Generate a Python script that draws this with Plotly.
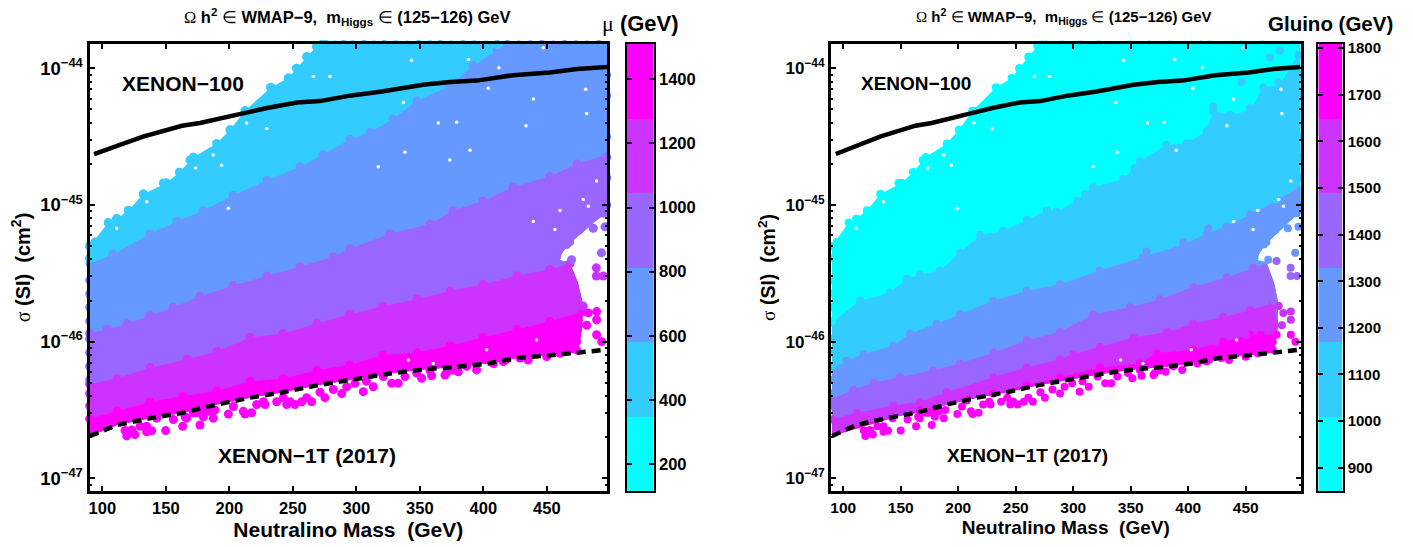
import numpy as np
import plotly.graph_objects as go

COLORS = ["#00FFFF", "#33CCFF", "#6699FF", "#9966FF", "#CC33FF", "#FF00FF"]

# limit curves (x in GeV, exponent of the cross section in cm^2)
X100_X = [93.5, 110, 132, 162.8, 176.9, 210.8, 229.7, 253.3, 271.4, 295, 320.2, 352.5, 373.8, 395, 413, 423.4, 452.5, 473.8, 497.4]
X100_E = [-44.627, -44.57, -44.50, -44.42, -44.40, -44.33, -44.29, -44.25, -44.24, -44.20, -44.17, -44.12, -44.10, -44.09, -44.065, -44.05, -44.03, -44.005, -43.99]
X1T_X = [90.3, 111.6, 137.6, 163.6, 190.3, 216.3, 242.3, 269, 295, 328.9, 355.7, 379.3, 403, 426.5, 452.5, 478.4, 495.8]
X1T_E = [-46.69, -46.61, -46.56, -46.52, -46.46, -46.41, -46.37, -46.32, -46.28, -46.23, -46.20, -46.185, -46.16, -46.12, -46.10, -46.075, -46.06]

# outline of the populated region
TOP_X = [90, 104.7, 111.3, 120.5, 132.3, 150.7, 160.7, 171.7, 190, 200.6, 212.4, 232.6, 246.5, 253, 261, 268.8, 272.7, 498]
TOP_E = [-45.30, -45.13, -45.10, -45.04, -44.92, -44.84, -44.76, -44.65, -44.55, -44.45, -44.31, -44.14, -44.07, -44.00, -43.915, -43.84, -43.82, -43.82]
LOW_X = [90.3, 111.6, 137.6, 163.6, 190.3, 216.3, 242.3, 269, 295, 328.9, 355.7, 379.3, 403, 426.5, 452.5, 474]
LOW_E = [-46.69, -46.61, -46.56, -46.52, -46.46, -46.41, -46.37, -46.32, -46.28, -46.23, -46.20, -46.185, -46.16, -46.12, -46.10, -46.08]
EDGE_X = [498, 498, 488, 478.4, 466.6, 458.7, 468, 474.5, 478, 478, 476, 474.4]
EDGE_E = [-43.82, -45.05, -45.12, -45.20, -45.29, -45.40, -45.42, -45.57, -45.71, -45.88, -46.00, -46.08]

# left panel (mu): upper boundary of each colour step
L1_X = [90.4, 108.4, 137.6, 158.8, 179.3, 202.9, 229.7, 255.7, 273.8, 295, 310.8, 328.9, 347.8, 373.8, 391.9, 410.8, 417, 498]
L1_E = [-45.43, -45.36, -45.21, -45.12, -45.04, -44.93, -44.82, -44.72, -44.63, -44.52, -44.47, -44.37, -44.24, -44.13, -43.98, -43.87, -43.82, -43.82]
L2_X = [90, 103.7, 119.4, 137.6, 155.7, 176.9, 202.9, 229.7, 255.7, 281.7, 295, 326.5, 358, 376.1, 399.8, 423.4, 452.5, 473.8, 498]
L2_E = [-45.94, -45.91, -45.87, -45.81, -45.75, -45.67, -45.59, -45.52, -45.45, -45.38, -45.32, -45.21, -45.14, -45.04, -44.97, -44.87, -44.79, -44.70, -44.63]
L3_X = [90, 111.6, 137.6, 166.7, 190.3, 216.3, 242.3, 269, 295, 321, 347.8, 373.8, 399.8, 426.5, 452.5, 468.3]
L3_E = [-46.31, -46.27, -46.19, -46.13, -46.07, -45.97, -45.94, -45.87, -45.80, -45.74, -45.69, -45.63, -45.58, -45.52, -45.47, -45.43]
L4_X = [90, 111.6, 137.6, 163.6, 190.3, 216.3, 242.3, 269, 295, 321, 347.8, 373.8, 399.8, 426.5, 452.5, 478.4]
L4_E = [-46.565, -46.51, -46.44, -46.40, -46.36, -46.29, -46.27, -46.21, -46.17, -46.10, -46.08, -46.03, -45.97, -45.91, -45.85, -45.78]

# right panel (gluino): upper boundary of each colour step
R1_X = [90, 114.6, 140.6, 155.1, 166.7, 184, 201.5, 218.9, 239.2, 259.5, 276.9, 285.5, 302.9, 317.4, 343.5, 358, 381.2, 398.5, 415.9, 421.7, 436.2, 453.6, 465.2, 479.7, 495.6, 498]
R1_E = [-45.86, -45.70, -45.64, -45.54, -45.51, -45.48, -45.35, -45.22, -45.19, -45.11, -45.04, -45.05, -44.97, -44.87, -44.81, -44.68, -44.56, -44.55, -44.46, -44.31, -44.34, -44.31, -44.14, -44.12, -43.90, -43.90]
R2_X = [90, 103, 117.5, 143.5, 158, 181.2, 201.5, 230.5, 259.5, 288.5, 323, 360.9, 395.6, 416, 433.3, 453.6, 476.8, 498]
R2_E = [-46.20, -46.14, -46.09, -46.03, -45.94, -45.87, -45.80, -45.70, -45.63, -45.58, -45.48, -45.38, -45.29, -45.21, -45.16, -45.07, -44.97, -44.86]
R3_X = [90, 108.8, 126.2, 149.3, 178.3, 201.5, 230.5, 259.5, 288.5, 317.4, 349.3, 375.4, 404.3, 433.3, 456.5, 476.8]
R3_E = [-46.42, -46.35, -46.30, -46.26, -46.21, -46.16, -46.08, -45.99, -45.93, -45.80, -45.75, -45.69, -45.60, -45.53, -45.46, -45.41]
R4_X = [90, 111.7, 143.5, 166.7, 189.9, 230.5, 259.5, 288.5, 300, 323.2, 352.2, 381.2, 404.3, 430.4, 453.6, 473.9]
R4_E = [-46.57, -46.52, -46.47, -46.44, -46.37, -46.26, -46.19, -46.13, -46.09, -46.04, -45.97, -45.93, -45.87, -45.82, -45.77, -45.72]
R5_X = [166.7, 207.3, 230.5, 259.5, 288.5, 323.2, 358, 372.4, 404.3, 430.4, 453.6, 476.8]
R5_E = [-46.50, -46.43, -46.38, -46.32, -46.26, -46.19, -46.16, -46.085, -46.06, -46.00, -45.95, -45.95]

# individual points standing out of the cloud (same points in both panels)
DOT_X = [90, 90, 94.3, 104.7, 111.3, 120.5, 132.3, 148, 150.7, 160.7, 169, 171.7, 200.6, 212.4, 232.6, 237.3, 246.5, 253, 261, 268.8, 272.7,
         276, 283, 290, 297, 306, 314, 322, 331, 340, 349, 358, 366, 375, 384, 393, 402, 411, 419, 428, 437, 446, 455, 464, 473, 482, 491,
         90, 90, 90, 90, 90, 90, 90, 90, 90, 90,
         497.2, 497.2, 497.2, 497.2, 497.2, 497.2,
         476, 485.3, 486.6, 476, 468, 494.5, 495.8, 469.5, 493, 489, 489, 494.5,
         478.7, 481.4, 470.9, 465.6, 457.7, 474, 478.7,
         119.2, 125.7, 123.1, 134.9, 138.9, 149.9, 163.3, 176.9, 166.4, 179.6, 187.4, 199.2, 212.4, 217.6, 228.1, 237.3, 245.2, 251.7, 257, 264.8, 275.3, 288.5, 183.5, 174.3, 134.9, 117.9,
         129.7, 142.8, 155.9, 165.1, 171.7, 179.6, 188.7, 203.2, 211, 221.6, 226.8, 242.5, 247.8, 260.9, 271.4, 281.9, 292.4,
         299, 308, 321.2, 338.3, 347.5, 358, 371, 376.4, 386.9, 407.9, 418.4, 428.9, 442, 455, 373.7, 465.6,
         305.5, 313.4, 327.8, 333, 351.4, 359.3, 369.8, 380.3, 394.7, 372.4, 379, 415.7, 435.4, 449.9, 460.4, 473.5, 473.5, 468.2, 489.2, 482.7, 489.2, 481.4, 489.2, 493.2, 423.6, 449.9, 463]
DOT_E = [-45.30, -45.39, -45.27, -45.13, -45.10, -45.04, -44.92, -44.84, -44.84, -44.76, -44.67, -44.65, -44.45, -44.31, -44.14, -44.17, -44.07, -44.00, -43.915, -43.84, -43.826,
         -43.826, -43.83, -43.826, -43.828, -43.826, -43.83, -43.826, -43.828, -43.83, -43.826, -43.828, -43.826, -43.83, -43.826, -43.828, -43.83, -43.826, -43.826, -43.83, -43.828, -43.826, -43.83, -43.826, -43.828, -43.83, -43.826,
         -45.55, -45.65, -45.75, -45.85, -45.98, -46.08, -46.18, -46.28, -46.38, -46.47,
         -44.2, -44.5, -44.8, -45.0, -44.05, -44.65,
         -44.96, -45.06, -45.17, -45.18, -45.27, -45.06, -45.16, -45.40, -45.35, -45.46, -45.52, -45.52,
         -45.06, -45.11, -45.21, -45.29, -45.38, -45.70, -45.74,
         -46.69, -46.68, -46.646, -46.66, -46.653, -46.651, -46.62, -46.61, -46.56, -46.55, -46.56, -46.53, -46.53, -46.52, -46.46, -46.44, -46.46, -46.46, -46.44, -46.44, -46.41, -46.38, -46.51, -46.52, -46.62, -46.65,
         -46.62, -46.56, -46.57, -46.55, -46.52, -46.51, -46.50, -46.475, -46.51, -46.46, -46.44, -46.41, -46.44, -46.41, -46.37, -46.35, -46.33,
         -46.305, -46.29, -46.256, -46.256, -46.23, -46.21, -46.23, -46.21, -46.18, -46.16, -46.13, -46.12, -46.085, -46.06, -46.10, -46.02,
         -46.366, -46.33, -46.305, -46.305, -46.268, -46.25, -46.244, -46.22, -46.207, -46.12, -46.12, -46.146, -46.134, -46.11, -46.085, -46.06, -46.00, -46.05, -45.78, -45.79, -45.84, -45.88, -45.95, -46.00, -46.00, -45.95, -45.95]

# points of the right panel lying across a step boundary
MIX_SKY_X = [418.8, 414.5, 401.4, 372.5, 360.9, 353.6, 317.4, 310.1, 436.2, 453.6, 421.7, 478.3, 446.4, 471, 479.7]
MIX_SKY_E = [-44.44, -44.51, -44.55, -44.67, -44.73, -44.73, -44.94, -44.92, -44.34, -44.29, -44.28, -44.10, -44.10, -43.92, -43.87]
MIX_BLUE_X = [417.4, 431.9, 395.6, 363.8]
MIX_BLUE_E = [-45.17, -45.18, -45.27, -45.34]

# small empty gaps inside the cloud
GAP_X = [337, 412.3, 403.9, 481.4, 480.6, 433.6, 439.4, 317.3, 338.3, 389.5, 373.7, 379, 364.6, 460.4, 489.2, 456.4, 439.4, 343.6, 388.2, 447.2, 482.7, 478.7,
         266.2, 279.3, 229.4, 213.6, 199.2, 135, 111.3, 187.4, 193.9, 173.5, 442, 402.6, 341, 360.6]
GAP_E = [-44.25, -43.995, -44.146, -44.33, -44.154, -44.42, -44.225, -44.72, -44.615, -44.60, -44.67, -44.395, -44.40, -45.04, -44.825, -45.18, -45.12, -43.94, -43.935, -43.85, -45.01, -44.96,
         -44.06, -44.06, -44.44, -44.40, -45.024, -44.976, -45.17, -44.634, -44.71, -44.73, -45.988, -46.06, -46.134, -46.16]

MU_TICKS = [200, 400, 600, 800, 1000, 1200, 1400]
MU_EDGES = [116, 348, 580, 813, 1045, 1277, 1510]
MU_STEP_VALUES = [232, 464, 697, 929, 1161, 1393]
GLUINO_TICKS = [900, 1000, 1100, 1200, 1300, 1400, 1500, 1600, 1700, 1800]
GLUINO_EDGES = [850, 1010, 1170, 1330, 1489, 1649, 1809]
GLUINO_STEP_VALUES = [930, 1090, 1250, 1410, 1569, 1729]

XTICKS = [100, 150, 200, 250, 300, 350, 400, 450]
YEXP = [-44, -45, -46, -47]

FONT = "Liberation Sans"
SERIF = "Liberation Serif"
W, H = 1413, 547


def stepped():
    out = []
    for i, c in enumerate(COLORS):
        out += [[i / 6, c], [(i + 1) / 6, c]]
    return out


def bands_iter(bands):
    first = 6 - len(bands)
    for i, (bx, be) in enumerate(bands):
        yield first + i, bx, be


def add_panel(fig, xa, ya, cax, bands, values, size):
    bands = [(np.array(a, float), np.array(b, float)) for a, b in bands]
    for k, bx, be in bands_iter(bands):
        keep = [i for i, e in enumerate(EDGE_E) if e < be[-1]]
        px = list(bx) + [EDGE_X[i] for i in keep] + LOW_X[::-1]
        pe = list(be) + [EDGE_E[i] for i in keep] + LOW_E[::-1]
        fig.add_trace(go.Scatter(x=px, y=10.0 ** np.array(pe), xaxis=xa, yaxis=ya, mode="lines", fill="toself",
                                 fillcolor=COLORS[k], line=dict(width=0, color=COLORS[k]),
                                 hoverinfo="skip", showlegend=False))
    for k, bx, be in bands_iter(bands):
        fig.add_trace(go.Scatter(x=bx, y=10.0 ** be, xaxis=xa, yaxis=ya, mode="markers", cliponaxis=False,
                                 marker=dict(size=size, color=[values[k]] * len(bx), coloraxis=cax, line=dict(width=0)),
                                 showlegend=False))
    # loose points take the colour of the step they lie in
    dx, de = np.array(DOT_X, float), np.array(DOT_E, float)
    idx = np.full(len(dx), 6 - len(bands))
    for k, bx, be in bands_iter(bands):
        idx[np.minimum(de, -43.85) <= np.interp(dx, bx, be)] = k
    order = np.argsort(idx, kind="stable")
    fig.add_trace(go.Scatter(x=dx[order], y=10.0 ** de[order], xaxis=xa, yaxis=ya, mode="markers", cliponaxis=False,
                             marker=dict(size=size, color=[values[i] for i in idx[order]], coloraxis=cax, line=dict(width=0)),
                             showlegend=False))
    fig.add_trace(go.Scatter(x=GAP_X, y=10.0 ** np.array(GAP_E), xaxis=xa, yaxis=ya, mode="markers",
                             marker=dict(size=3.5, color="white", line=dict(width=0)), hoverinfo="skip", showlegend=False))


def add_limits(fig, xa, ya):
    fig.add_trace(go.Scatter(x=X100_X, y=10.0 ** np.array(X100_E), xaxis=xa, yaxis=ya, mode="lines",
                             line=dict(color="black", width=4.5), name="XENON-100", showlegend=False))
    fig.add_trace(go.Scatter(x=X1T_X, y=10.0 ** np.array(X1T_E), xaxis=xa, yaxis=ya, mode="lines",
                             line=dict(color="black", width=4.5, dash="9px,6px"), name="XENON-1T (2017)", showlegend=False))


fig = go.Figure()
add_panel(fig, "x", "y", "coloraxis",
          [(TOP_X, TOP_E), (L1_X, L1_E), (L2_X, L2_E), (L3_X, L3_E), (L4_X, L4_E)], MU_STEP_VALUES, 9)
add_limits(fig, "x", "y")
add_panel(fig, "x2", "y2", "coloraxis2",
          [(TOP_X, TOP_E), (R1_X, R1_E), (R2_X, R2_E), (R3_X, R3_E), (R4_X, R4_E), (R5_X, R5_E)], GLUINO_STEP_VALUES, 8)
fig.add_trace(go.Scatter(x=MIX_SKY_X, y=10.0 ** np.array(MIX_SKY_E), xaxis="x2", yaxis="y2", mode="markers",
                         marker=dict(size=8, color=[GLUINO_STEP_VALUES[1]] * len(MIX_SKY_X), coloraxis="coloraxis2", line=dict(width=0)), showlegend=False))
fig.add_trace(go.Scatter(x=MIX_BLUE_X, y=10.0 ** np.array(MIX_BLUE_E), xaxis="x2", yaxis="y2", mode="markers",
                         marker=dict(size=8, color=[GLUINO_STEP_VALUES[2]] * len(MIX_BLUE_X), coloraxis="coloraxis2", line=dict(width=0)), showlegend=False))
add_limits(fig, "x2", "y2")

# the two colour keys, each on its own axes
fig.add_trace(go.Heatmap(x=[0, 1], y=MU_EDGES, z=[[v] for v in MU_STEP_VALUES], coloraxis="coloraxis", xaxis="x3", yaxis="y3", hoverinfo="skip"))
fig.add_trace(go.Heatmap(x=[0, 1], y=GLUINO_EDGES, z=[[v] for v in GLUINO_STEP_VALUES], coloraxis="coloraxis2", xaxis="x4", yaxis="y4", hoverinfo="skip"))

minor_vals = [m * 10.0 ** e for e in (-48, -47, -46, -45, -44) for m in (2, 3, 4, 5, 6, 7, 8, 9)]


def xaxis(dom, rng, size, title_size):
    return dict(domain=dom, range=rng, tickvals=XTICKS, ticks="inside", ticklen=5, tickwidth=2, tickcolor="black",
                automargin=False,
                showline=True, linewidth=3, linecolor="black", mirror="ticks", showgrid=False, zeroline=False,
                tickfont=dict(family=FONT, size=size, color="black", weight="bold"),
                title=dict(text="Neutralino Mass\u00a0\u00a0(GeV)", font=dict(family=FONT, size=title_size, color="black", weight="bold"), standoff=7))


def yaxis(anchor, size, title_size):
    return dict(type="log", domain=[1 - 491 / H, 1 - 44 / H], range=[-47.093, -43.822], anchor=anchor, automargin=False,
                tickvals=[10.0 ** e for e in YEXP], ticktext=["10<sup>\u2212%d</sup>" % -e for e in YEXP],
                ticks="inside", ticklen=5, tickwidth=2, tickcolor="black",
                minor=dict(tickvals=minor_vals, ticks="inside", ticklen=2, tickwidth=2, tickcolor="black", showgrid=False),
                showline=True, linewidth=3, linecolor="black", mirror="ticks", showgrid=False, zeroline=False,
                tickfont=dict(family=FONT, size=size, color="black", weight="bold"),
                title=dict(text="<span style='font-family:%s;font-weight:normal'>\u03c3</span> (SI)\u00a0\u00a0(cm<sup>2</sup>)" % SERIF,
                           font=dict(family=FONT, size=title_size, color="black", weight="bold"), standoff=5))


def key_x(dom, y):
    return dict(domain=dom, range=[0, 1], anchor=y, automargin=False, showticklabels=False, ticks="", showgrid=False, zeroline=False,
                showline=True, linewidth=2, linecolor="black", mirror=True)


def key_y(x, edges, ticks, size):
    return dict(domain=[1 - 491 / H, 1 - 44 / H], range=[edges[0], edges[-1]], anchor=x, side="right", automargin=False,
                tickvals=ticks, ticks="inside", ticklen=5, tickwidth=2, tickcolor="black",
                showline=True, linewidth=2, linecolor="black", mirror="ticks", showgrid=False, zeroline=False,
                tickfont=dict(family=FONT, size=size, color="black", weight="bold"))


title_txt = ("<span style='font-family:%s;font-weight:normal'>\u03a9</span> h<sup>2</sup>\u00a0"
             "<span style='font-family:%s;font-weight:normal'>\u2208</span> WMAP\u22129,\u00a0\u00a0m<sub>Higgs</sub>\u00a0"
             "<span style='font-family:%s;font-weight:normal'>\u2208</span> (125\u2212126) GeV") % (SERIF, SERIF, SERIF)


def note(text, x, y, size, xref="paper", yref="paper"):
    return dict(text=text, x=x, y=y, xref=xref, yref=yref, showarrow=False, xanchor="center", yanchor="middle",
                font=dict(family=FONT, size=size, color="black", weight="bold"))


fig.update_layout(
    width=W, height=H, margin=dict(l=0, r=0, t=0, b=0), paper_bgcolor="white", plot_bgcolor="white", showlegend=False,
    xaxis=xaxis([89.5 / W, 607 / W], [89.9, 497.4], 16.5, 21),
    yaxis=yaxis("x", 18.5, 20),
    xaxis2=xaxis([831 / W, 1300.5 / W], [89.3, 497.6], 15.5, 19),
    yaxis2=yaxis("x2", 17, 19.5),
    xaxis3=key_x([627 / W, 653.7 / W], "y3"),
    yaxis3=key_y("x3", MU_EDGES, MU_TICKS, 16.5),
    xaxis4=key_x([1318.3 / W, 1342.7 / W], "y4"),
    yaxis4=key_y("x4", GLUINO_EDGES, GLUINO_TICKS, 15),
    coloraxis=dict(colorscale=stepped(), cmin=MU_EDGES[0], cmax=MU_EDGES[-1], showscale=False),
    coloraxis2=dict(colorscale=stepped(), cmin=GLUINO_EDGES[0], cmax=GLUINO_EDGES[-1], showscale=False),
    annotations=[
        note(title_txt, 347.5 / W, 1 - 17 / H, 16.5),
        note(title_txt, 1064 / W, 1 - 17 / H, 15),
        note("<span style='font-family:%s;font-weight:normal'>\u03bc</span> (GeV)" % SERIF, 640 / W, 1 - 23 / H, 22),
        note("Gluino (GeV)", 1330 / W, 1 - 23 / H, 20.5),
        note("XENON\u2212100", 163.5, -44.108, 21, "x", "y"),
        note("XENON\u22121T (2017)", 261, -46.83, 21, "x", "y"),
        note("XENON\u2212100", 163, -44.108, 19, "x2", "y2"),
        note("XENON\u22121T (2017)", 260, -46.83, 19, "x2", "y2"),
    ],
)

fig.write_html("out.html", config=dict(displayModeBar=False),
               post_script="document.body.style.margin='0';document.body.style.overflow='hidden';")
